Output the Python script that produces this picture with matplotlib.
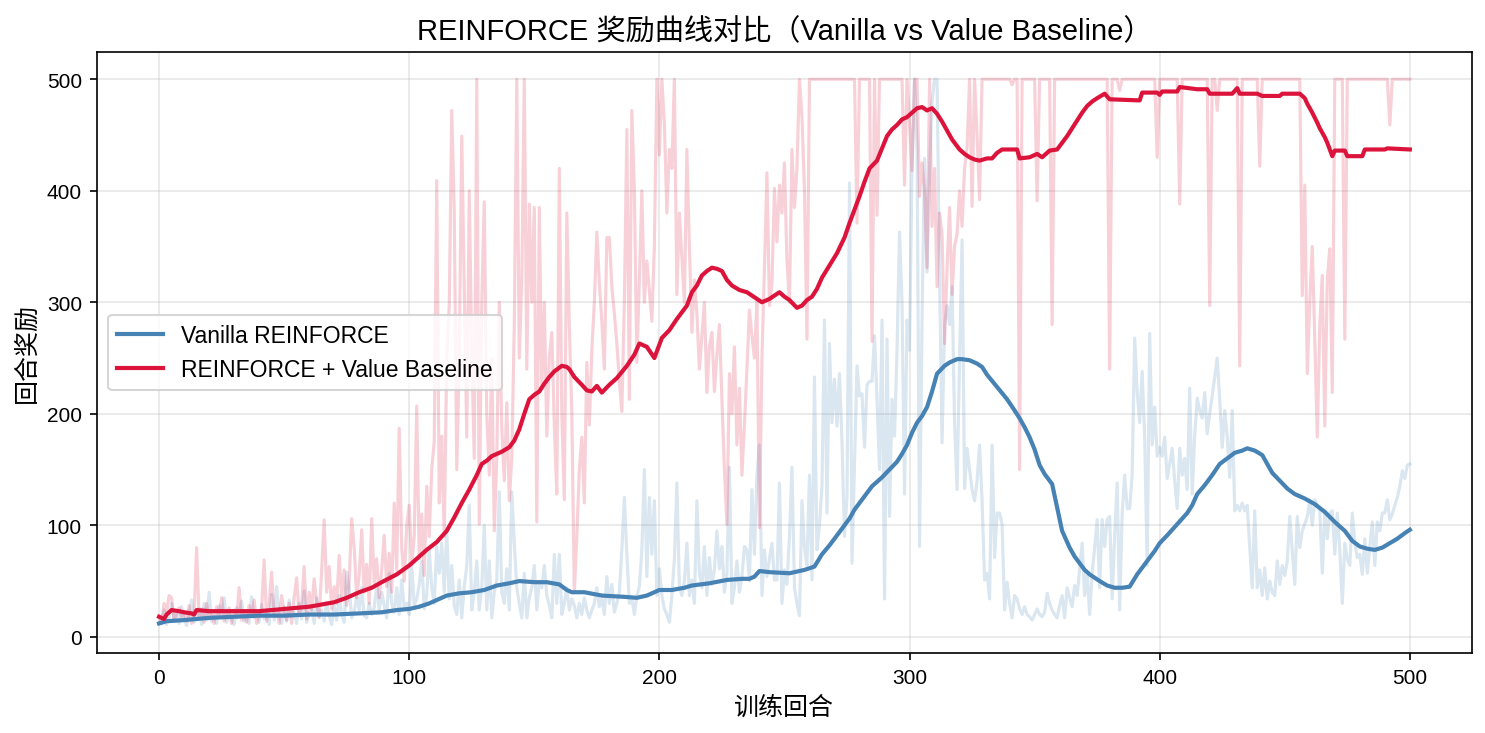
import matplotlib
matplotlib.use("Agg")
import matplotlib.pyplot as plt
import numpy as np

plt.rcParams['font.family'] = ['Liberation Sans', 'Noto Sans CJK SC', 'DejaVu Sans']
plt.rcParams['axes.unicode_minus'] = False

# raw episode rewards, one value per episode 0..500
vanilla_raw = [
    12, 15, 24, 11, 18, 30, 14, 22, 12, 27,
    16, 10, 20, 33, 13, 18, 25, 11, 30, 15,
    40, 14, 19, 12, 28, 17, 35, 13, 21, 16,
    11, 26, 18, 32, 14, 20, 12, 36, 17, 23,
    13, 29, 16, 21, 11, 38, 15, 45, 19, 12,
    27, 14, 33, 18, 22, 12, 30, 16, 41, 13,
    20, 26, 12, 35, 17, 24, 14, 31, 19, 11,
    28, 15, 37, 20, 13, 58, 44, 17, 22, 37,
    24, 44, 19, 17, 30, 20, 26, 47, 24, 40,
    28, 17, 57, 30, 22, 44, 20, 51, 26, 30,
    20, 64, 28, 34, 47, 68, 25, 37, 78, 44,
    30, 81, 57, 84, 40, 95, 34, 64, 28, 20,
    51, 17, 45, 64, 118, 24, 40, 68, 24, 44,
    100, 24, 68, 17, 40, 51, 130, 40, 30, 61,
    24, 130, 84, 44, 30, 17, 57, 17, 35, 44,
    64, 24, 50, 44, 64, 37, 28, 17, 74, 30,
    74, 20, 30, 44, 24, 34, 28, 17, 30, 20,
    35, 24, 17, 24, 30, 44, 27, 34, 20, 54,
    30, 47, 22, 30, 40, 78, 125, 74, 30, 34,
    20, 37, 45, 78, 150, 54, 125, 74, 122, 37,
    61, 37, 25, 20, 13, 37, 70, 138, 44, 37,
    50, 84, 37, 51, 30, 122, 57, 44, 81, 37,
    71, 47, 60, 95, 61, 81, 40, 57, 152, 30,
    44, 68, 40, 54, 81, 78, 50, 132, 74, 145,
    172, 37, 78, 54, 70, 84, 51, 51, 138, 30,
    60, 47, 90, 152, 44, 30, 19, 122, 80, 64,
    145, 51, 233, 78, 100, 135, 284, 111, 263, 192,
    231, 189, 236, 175, 90, 125, 407, 66, 155, 243,
    216, 218, 170, 226, 229, 229, 270, 213, 150, 284,
    34, 267, 108, 213, 180, 257, 363, 300, 128, 284,
    257, 422, 500, 439, 81, 284, 429, 327, 419, 480,
    500, 500, 324, 174, 280, 297, 280, 314, 192, 132,
    250, 356, 133, 169, 150, 132, 122, 140, 172, 122,
    51, 57, 34, 172, 71, 111, 111, 101, 24, 49,
    30, 17, 37, 34, 25, 20, 27, 20, 18, 15,
    20, 25, 20, 18, 22, 39, 30, 24, 20, 17,
    28, 37, 17, 44, 35, 27, 46, 37, 60, 84,
    37, 57, 20, 57, 80, 105, 44, 105, 81, 105,
    108, 34, 91, 138, 24, 111, 145, 115, 115, 145,
    268, 220, 192, 238, 179, 64, 272, 172, 206, 162,
    170, 162, 179, 142, 155, 169, 140, 115, 169, 145,
    160, 132, 223, 128, 180, 214, 203, 196, 219, 182,
    200, 216, 233, 250, 213, 170, 203, 179, 143, 203,
    113, 118, 113, 120, 113, 118, 80, 44, 113, 44,
    60, 37, 62, 34, 50, 40, 37, 68, 47, 64,
    55, 68, 108, 78, 47, 108, 80, 95, 101, 108,
    123, 100, 123, 118, 113, 57, 113, 88, 111, 113,
    74, 111, 78, 30, 84, 70, 64, 111, 84, 71,
    74, 56, 88, 57, 81, 103, 64, 103, 95, 111,
    111, 123, 105, 110, 118, 125, 135, 149, 142, 154,
    155,
]

baseline_raw = [
    18, 12, 30, 22, 37, 35, 15, 20, 26, 18,
    22, 14, 28, 12, 20, 80, 18, 25, 13, 30,
    16, 22, 12, 27, 18, 35, 14, 20, 26, 12,
    24, 17, 44, 15, 21, 13, 28, 18, 33, 12,
    20, 25, 69, 14, 30, 58, 18, 24, 12, 37,
    22, 15, 30, 12, 35, 53, 20, 28, 63, 16,
    40, 24, 52, 30, 18, 60, 105, 40, 63, 25,
    45, 30, 73, 35, 60, 28, 50, 106, 80, 35,
    55, 96, 40, 65, 30, 106, 48, 70, 35, 60,
    91, 45, 75, 40, 120, 60, 187, 80, 50, 100,
    118, 65, 90, 207, 70, 110, 55, 135, 90, 150,
    175, 409, 120, 180, 90, 250, 297, 472, 382, 150,
    250, 449, 314, 179, 400, 255, 160, 500, 101, 300,
    390, 200, 145, 250, 95, 160, 300, 187, 140, 210,
    122, 160, 280, 500, 250, 321, 500, 240, 388, 300,
    385, 103, 385, 223, 300, 180, 250, 273, 190, 128,
    420, 199, 123, 380, 280, 200, 40, 90, 150, 179,
    120, 246, 190, 257, 300, 363, 317, 283, 240, 358,
    358, 314, 290, 263, 230, 202, 300, 455, 213, 472,
    400, 246, 320, 400, 300, 337, 310, 283, 350, 500,
    432, 500, 460, 380, 437, 420, 500, 307, 380, 340,
    300, 437, 350, 273, 320, 290, 240, 270, 300, 219,
    260, 273, 220, 253, 280, 213, 150, 101, 236, 200,
    260, 172, 223, 145, 190, 240, 293, 270, 250, 300,
    98, 250, 330, 416, 297, 317, 402, 354, 405, 380,
    425, 337, 300, 437, 385, 420, 500, 466, 400, 267,
    500, 500, 500, 500, 500, 500, 500, 500, 500, 500,
    500, 500, 500, 500, 500, 500, 500, 500, 500, 371,
    500, 500, 500, 500, 500, 265, 500, 378, 500, 500,
    500, 500, 500, 500, 500, 500, 500, 500, 405, 500,
    460, 418, 500, 500, 395, 425, 400, 331, 500, 368,
    420, 314, 380, 361, 263, 330, 385, 307, 350, 361,
    400, 368, 420, 439, 500, 386, 500, 450, 392, 500,
    500, 500, 500, 500, 500, 500, 500, 500, 500, 500,
    500, 495, 500, 500, 150, 500, 500, 500, 500, 500,
    500, 391, 500, 500, 500, 500, 500, 280, 500, 500,
    500, 500, 500, 500, 500, 500, 500, 500, 500, 500,
    500, 500, 500, 500, 500, 500, 500, 500, 500, 500,
    240, 500, 500, 500, 490, 500, 500, 500, 500, 500,
    500, 500, 500, 500, 500, 500, 500, 500, 500, 430,
    500, 500, 500, 500, 500, 500, 500, 500, 388, 500,
    500, 500, 500, 500, 500, 500, 500, 500, 500, 500,
    297, 500, 500, 472, 500, 500, 500, 500, 500, 500,
    500, 500, 243, 500, 500, 500, 500, 500, 500, 500,
    422, 500, 500, 500, 500, 500, 500, 500, 500, 500,
    500, 500, 500, 500, 500, 500, 500, 306, 405, 236,
    300, 350, 267, 179, 280, 324, 189, 320, 348, 219,
    500, 500, 500, 500, 267, 500, 500, 500, 500, 500,
    500, 500, 500, 500, 500, 500, 500, 500, 500, 500,
    500, 500, 459, 500, 500, 500, 500, 500, 500, 500,
    500,
]

# smoothed curves (moving average), read at selected episodes
vanilla_smooth_ep = [0, 3, 10, 20, 30, 40, 50, 60, 70, 80, 89, 95, 100, 104, 108, 112, 115, 120,
                     125, 130, 135, 140, 144, 150, 155, 160, 163, 165, 170, 177, 185, 191, 195,
                     200, 205, 210, 213, 220, 227, 233, 236, 238, 240, 244, 252, 258, 262, 265,
                     268, 271, 274, 276, 278, 281, 285, 289, 292, 295, 297, 299, 301, 303, 305,
                     307, 309, 311, 314, 316, 319, 321, 324, 327, 329, 331, 335, 339, 342, 344,
                     346, 348, 350, 352, 354, 357, 359, 361, 364, 366, 368, 370, 372, 376, 379,
                     382, 385, 388, 391, 393, 395, 398, 400, 403, 407, 411, 413, 415, 418, 421,
                     424, 427, 430, 433, 435, 438, 441, 443, 445, 448, 451, 454, 458, 462, 466,
                     470, 474, 477, 480, 483, 486, 489, 492, 495, 498, 500]
vanilla_smooth = [12, 14, 15, 17, 18, 19, 19, 20, 20, 21, 22, 24, 25, 27, 30, 34, 37, 39,
                  40, 42, 46, 48, 50, 49, 49, 47, 42, 40, 40, 37, 36, 35, 37,
                  42, 42, 44, 46, 48, 51, 52, 52, 54, 59, 58, 57, 60, 63, 74,
                  82, 91, 100, 106, 114, 123, 135, 143, 150, 157, 164, 172, 183, 192, 198,
                  206, 220, 236, 243, 246, 249, 249, 248, 245, 242, 235, 224, 213, 203, 196,
                  188, 179, 168, 154, 146, 137, 116, 95, 80, 72, 66, 60, 56, 50, 46,
                  44, 44, 45, 56, 62, 68, 77, 84, 91, 101, 111, 118, 128, 136, 145,
                  155, 160, 165, 167, 169, 167, 163, 155, 147, 140, 133, 128, 124, 119, 112,
                  103, 95, 86, 81, 79, 78, 80, 84, 88, 93, 96]

baseline_smooth_ep = [0, 2, 3, 5, 8, 10, 13, 14, 15, 20, 30, 40, 45, 50, 55, 60, 65, 70, 75, 80,
                      85, 89, 95, 100, 104, 107, 111, 115, 118, 121, 124, 127, 129, 131, 133,
                      137, 140, 142, 144, 146, 148, 150, 152, 154, 156, 158, 161, 163, 164, 166,
                      169, 171, 173, 175, 177, 180, 183, 187, 190, 192, 195, 198, 201, 204, 207,
                      211, 213, 215, 217, 219, 221, 223, 225, 227, 229, 232, 235, 237, 239, 241,
                      244, 246, 248, 250, 252, 255, 257, 259, 261, 263, 265, 268, 271, 274, 276,
                      278, 280, 282, 284, 287, 289, 291, 293, 295, 297, 299, 301, 303, 305, 307,
                      309, 311, 313, 315, 317, 320, 322, 324, 326, 328, 331, 333, 335, 337, 343,
                      344, 348, 351, 353, 356, 359, 361, 363, 365, 367, 369, 371, 373, 375, 378,
                      380, 392, 393, 399, 400, 401, 407, 408, 415, 419, 420, 429, 431, 432, 439,
                      441, 448, 449, 456, 458, 459, 461, 463, 464, 466, 467, 469, 470, 474, 475,
                      481, 482, 490, 491, 500]
baseline_smooth = [18, 16, 20, 24, 23, 22, 21, 20, 24, 23, 23, 23, 24, 25, 26, 27, 29, 31, 35, 40,
                   44, 49, 56, 64, 72, 78, 85, 95, 107, 120, 132, 145, 155, 158, 162,
                   166, 170, 176, 186, 200, 213, 217, 220, 227, 233, 238, 243, 242, 240, 233,
                   226, 221, 220, 225, 219, 226, 232, 243, 253, 263, 260, 250, 268, 275, 285,
                   297, 309, 315, 324, 328, 331, 330, 328, 320, 315, 311, 309, 306, 303, 300,
                   303, 306, 309, 305, 302, 295, 297, 302, 305, 312, 322, 333, 344, 358, 371,
                   383, 395, 408, 420, 427, 438, 449, 455, 459, 464, 466, 470, 474, 475, 472,
                   474, 469, 462, 454, 446, 437, 433, 430, 428, 427, 429, 429, 434, 437, 437,
                   429, 430, 433, 430, 436, 437, 443, 449, 456, 463, 470, 476, 480, 483, 487,
                   482, 481, 488, 488, 486, 489, 489, 493, 491, 491, 487, 487, 492, 487, 487,
                   485, 485, 487, 487, 483, 478, 470, 461, 456, 448, 443, 431, 436, 436, 431,
                   431, 437, 437, 438, 437]

episodes = np.arange(len(vanilla_raw))

fig, ax = plt.subplots(figsize=(9.9, 4.893), dpi=150)
fig.subplots_adjust(left=0.065, right=0.9915, top=0.928, bottom=0.109)

ax.plot(episodes, vanilla_raw, color='steelblue', alpha=0.2, linewidth=1.5)
ax.plot(episodes, baseline_raw, color='crimson', alpha=0.2, linewidth=1.5)
ax.plot(vanilla_smooth_ep, vanilla_smooth, color='steelblue', linewidth=2, label='Vanilla REINFORCE')
ax.plot(baseline_smooth_ep, baseline_smooth, color='crimson', linewidth=2, label='REINFORCE + Value Baseline')

ax.set_xlabel('训练回合', fontsize=12)
ax.set_ylabel('回合奖励', fontsize=12)
# TC font centres the full-width brackets like the reference
ax.set_title('REINFORCE 奖励曲线对比（Vanilla vs Value Baseline）', fontsize=14,
             family=['Liberation Sans', 'Noto Sans CJK TC', 'DejaVu Sans'])
ax.legend(loc='center left', fontsize=11)
ax.grid(True, alpha=0.3)

fig.savefig('out.png', dpi=150)
